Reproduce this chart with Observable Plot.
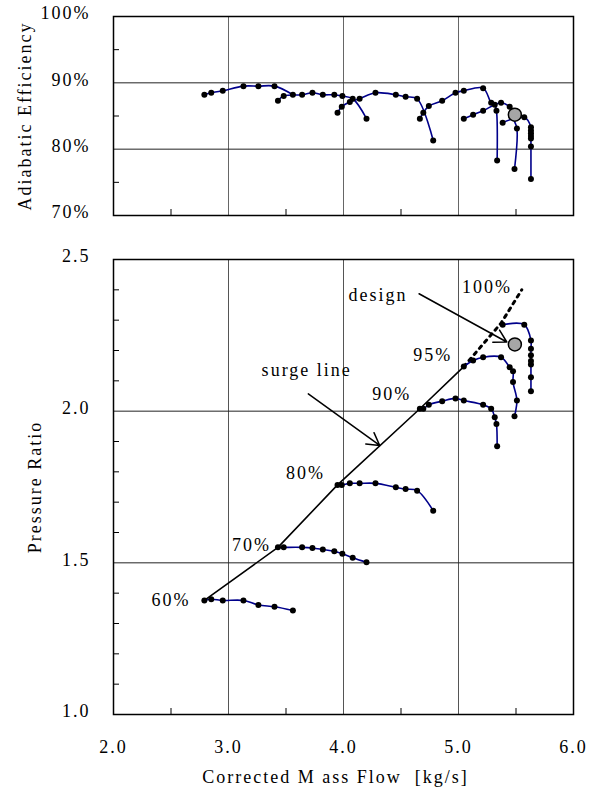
<!DOCTYPE html>
<html><head><meta charset="utf-8">
<script src="https://cdn.jsdelivr.net/npm/d3@7"></script>
<script src="https://cdn.jsdelivr.net/npm/@observablehq/plot@0.6"></script>
<style>
body{margin:0;background:#fff;}
#wrap{position:relative;width:600px;height:800px;}
#top{position:absolute;left:0;top:0;}
#bot{position:absolute;left:0;top:235px;}
</style></head><body><div id="wrap"><div id="top"></div><div id="bot"></div></div>
<script>
// ---- data ----
const speeds = ["60%","70%","80%","90%","95%","100%"];
const flow60 = [2.79,2.85,2.95,3.13,3.26,3.40,3.56];
const pr60   = [1.376,1.380,1.376,1.376,1.361,1.355,1.343];
const eff60  = [88.2,88.5,88.8,89.5,89.5,89.5,88.2];
const flow70 = [3.43,3.48,3.64,3.73,3.82,3.92,3.99,4.08,4.20];
const pr70   = [1.551,1.551,1.551,1.549,1.544,1.538,1.530,1.517,1.502];
const eff70  = [87.3,88.0,88.2,88.5,88.2,88.2,88.0,87.6,84.6];
const flow80 = [3.948,3.985,4.055,4.14,4.278,4.455,4.54,4.64,4.78];
const pr80   = [1.757,1.757,1.762,1.762,1.762,1.749,1.743,1.738,1.672];
const eff80  = [85.5,86.4,87.1,87.6,88.5,88.2,87.9,87.6,81.3];
const flow90 = [4.664,4.694,4.742,4.858,4.974,5.046,5.214,5.284,5.315,5.330,5.336];
const pr90   = [2.008,2.008,2.021,2.033,2.042,2.035,2.021,2.008,1.980,1.958,1.884];
const eff90  = [84.6,85.5,86.5,87.3,88.5,88.8,89.2,87.0,86.7,85.8,78.3];
const flow95 = [5.046,5.127,5.214,5.370,5.445,5.474,5.474,5.508,5.487];
const pr95   = [2.147,2.167,2.178,2.178,2.145,2.132,2.096,2.035,1.983];
const eff95  = [84.6,85.2,85.8,87.0,86.4,85.8,84.8,83.1,77.0];
const flow100 = [5.384,5.572,5.63,5.63,5.63,5.63,5.63,5.63,5.63];
const pr100   = [2.285,2.285,2.233,2.206,2.184,2.165,2.154,2.112,2.066];
const eff100  = [84.0,84.8,83.3,82.8,82.4,82.0,81.6,80.4,75.5];

const designFlow = 5.49, designPR = 2.22, designEff = 85.2;

const surgeFlow = [2.79,3.43,3.948,4.664,5.046];
const surgePR   = [1.376,1.551,1.757,2.008,2.147];
const surgeExtFlow = [5.046,5.37,5.55];
const surgeExtPR   = [2.147,2.29,2.40];

const speedLabelX = [2.50,3.20,3.67,4.42,4.775,5.248];
const speedLabelY = [1.376,1.557,1.794,2.057,2.184,2.409];

const annText = ["design","surge line"];
const annX = [4.30,3.68];
const annY = [2.381,2.134];
const arrowFrom = [[4.657,2.387],[3.694,2.057]];
const arrowTo   = [[5.42,2.228],[4.315,1.887]];

const xTicks = [2,3,4,5,6];
const xMinor = [2.5,3.5,4.5,5.5];
const effTicks = [70,80,90,100];
const effMinor = [75,85,95];
const prTicks = [1.0,1.5,2.0,2.5];
const prMinor = [1.1,1.2,1.3,1.4,1.6,1.7,1.8,1.9,2.1,2.2,2.3,2.4];

// ---- build tables ----
const flows = [flow60,flow70,flow80,flow90,flow95,flow100];
const prs = [pr60,pr70,pr80,pr90,pr95,pr100];
const effs = [eff60,eff70,eff80,eff90,eff95,eff100];
const rows = speeds.flatMap((s,k) => flows[k].map((f,i) => ({speed:s, flow:f, pr:prs[k][i], eff:effs[k][i]})));
const design = [{flow:designFlow, pr:designPR, eff:designEff}];
const surge = surgeFlow.map((f,i)=>({flow:f, pr:surgePR[i]}));
const surgeExt = surgeExtFlow.map((f,i)=>({flow:f, pr:surgeExtPR[i]}));
const speedLabels = speeds.map((s,i)=>({text:s, flow:speedLabelX[i], pr:speedLabelY[i]}));
const ann = annText.map((t,i)=>({text:t, flow:annX[i], pr:annY[i]}));
const arrows = arrowFrom.map((a,i)=>({x1:a[0], y1:a[1], x2:arrowTo[i][0], y2:arrowTo[i][1]}));

const FONT = '"Liberation Serif","Times New Roman",serif';
const style = {fontFamily: FONT, fontSize: "18px", color: "#000", background: "#fff", letterSpacing: "2px"};
const lineColor = "#00008b";
const fmt1 = d3.format(".1f");

const topPlot = Plot.plot({
  width: 600, height: 235,
  marginLeft: 113, marginRight: 27, marginTop: 16, marginBottom: 20,
  style,
  x: {domain: [2,6], label: null},
  y: {domain: [70,100], label: null},
  marks: [
    Plot.gridX(xTicks.slice(1,4), {stroke: "#666", strokeOpacity: 1}),
    Plot.gridY([80,90], {stroke: "#222", strokeOpacity: 1}),
    Plot.axisX(xMinor, {tickSize: 6, dy: -6, tickFormat: () => ""}),
    Plot.axisY(effMinor, {tickSize: 6, dx: 6, tickFormat: () => ""}),
    Plot.axisY(effTicks, {tickSize: 0, tickPadding: 23, dy: -3, tickFormat: d => d + "%", fontSize: 18}),
    Plot.frame({stroke: "#000", strokeWidth: 1.5}),
    Plot.line(rows, {x: "flow", y: "eff", z: "speed", stroke: lineColor, strokeWidth: 1.6, curve: "catmull-rom"}),
    Plot.dot(rows, {x: "flow", y: "eff", r: 3, fill: "#000"}),
    Plot.dot(design, {x: "flow", y: "eff", r: 6.5, fill: "#a6a6a6", stroke: "#000", strokeWidth: 1.5}),
    Plot.text(["Adiabatic Efficiency"], {text: d => d, frameAnchor: "left", textAnchor: "middle", dx: -88, rotate: -90, fontSize: 18})
  ]
});

const botPlot = Plot.plot({
  width: 600, height: 565,
  marginLeft: 113, marginRight: 27, marginTop: 24, marginBottom: 86,
  style,
  x: {domain: [2,6], label: null},
  y: {domain: [1,2.5], label: null},
  marks: [
    Plot.gridX(xTicks.slice(1,4), {stroke: "#555", strokeOpacity: 1}),
    Plot.gridY([1.5,2.0], {stroke: "#222", strokeOpacity: 1}),
    Plot.axisX(xMinor, {tickSize: 6, dy: -6, tickFormat: () => ""}),
    Plot.axisY(prMinor, {tickSize: 6, dx: 6, tickFormat: () => ""}),
    Plot.axisX(xTicks, {tickSize: 0, tickPadding: 26, tickFormat: fmt1, fontSize: 18}),
    Plot.axisY(prTicks, {tickSize: 0, tickPadding: 23, dy: -3, tickFormat: fmt1, fontSize: 18}),
    Plot.frame({stroke: "#000", strokeWidth: 1.5}),
    Plot.line(surge, {x: "flow", y: "pr", stroke: "#000", strokeWidth: 1.6}),
    Plot.line(surgeExt, {x: "flow", y: "pr", stroke: "#000", strokeWidth: 3, strokeDasharray: "3,5"}),
    Plot.line(rows, {x: "flow", y: "pr", z: "speed", stroke: lineColor, strokeWidth: 1.6, curve: "catmull-rom"}),
    Plot.dot(rows, {x: "flow", y: "pr", r: 3, fill: "#000"}),
    Plot.dot(design, {x: "flow", y: "pr", r: 6.5, fill: "#a6a6a6", stroke: "#000", strokeWidth: 1.5}),
    Plot.arrow(arrows, {x1: "x1", y1: "y1", x2: "x2", y2: "y2", stroke: "#000", strokeWidth: 1.5, headLength: 14}),
    Plot.text(speedLabels, {x: "flow", y: "pr", text: "text", fontSize: 18}),
    Plot.text(ann, {x: "flow", y: "pr", text: "text", fontSize: 18}),
    Plot.text(["Pressure Ratio"], {text: d => d, frameAnchor: "left", textAnchor: "middle", dx: -78, rotate: -90, fontSize: 18}),
    Plot.text(["Corrected M ass Flow  [kg/s]"], {text: d => d, frameAnchor: "bottom", dx: -8, dy: 68, fontSize: 18})
  ]
});

document.getElementById("top").appendChild(topPlot);
document.getElementById("bot").appendChild(botPlot);
</script></body></html>
